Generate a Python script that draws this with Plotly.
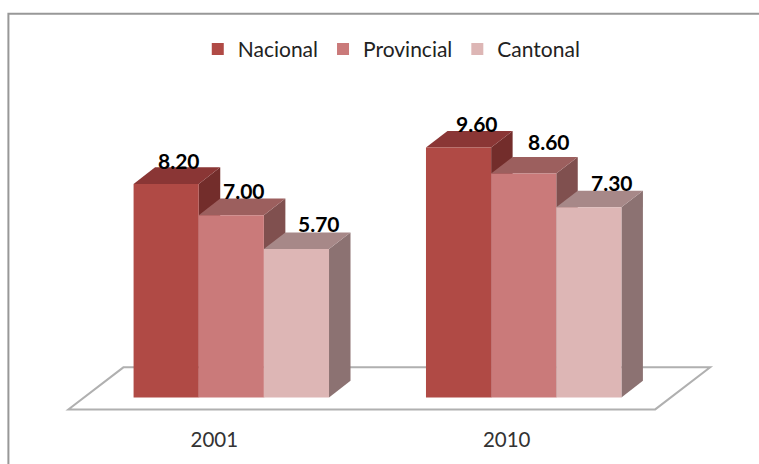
import plotly.graph_objects as go

categories = ["2001", "2010"]
series_names = ["Nacional", "Provincial", "Cantonal"]
nacional = [8.20, 9.60]
provincial = [7.00, 8.60]
cantonal = [5.70, 7.30]
series_values = [nacional, provincial, cantonal]

front_colors = ["#B04A45", "#CA7A7A", "#DDB6B5"]
top_colors = ["#8A3635", "#9C5F5E", "#A78888"]
side_colors = ["#732D2B", "#80504F", "#8C7272"]

W, H = 759, 464
PX_X = 292.5          # pixels per category
PX_Y = 26.0           # pixels per value unit
X_RANGE = [-0.75, 1.75]
Y_RANGE = [-0.6, 10.5]
BARGAP = 0.3316
BAR_W = (1 - BARGAP) / 3
DX = 21.5 / PX_X      # depth of the 3D look, in data units
DY = 16.5 / PX_Y

margin_l = 11.6
plot_w = (X_RANGE[1] - X_RANGE[0]) * PX_X
plot_h = (Y_RANGE[1] - Y_RANGE[0]) * PX_Y
margin_t = 397 - Y_RANGE[1] * PX_Y
margin_b = H - margin_t - plot_h
margin_r = W - margin_l - plot_w

# label offsets in pixels (dx from bar centre, dy from bar top)
label_shift = [[(12.5, 23.5), (18, 23.5)], [(12.5, 25), (25.5, 32)], [(23, 25), (23.5, 25)]]

fig = go.Figure()
for name, vals, col in zip(series_names, series_values, front_colors):
    fig.add_trace(go.Bar(name=name, x=categories, y=vals, marker=dict(color=col, line=dict(width=0))))

def px2x(p):
    return (p - margin_l) / PX_X + X_RANGE[0]
def px2y(p):
    return (397 - p) / PX_Y
def paper_x(p):
    return (p - margin_l) / plot_w
def paper_y(p):
    return (margin_t + plot_h - p) / plot_h

shapes = []
# floor
fl = [(68, 409), (655, 409), (710, 367), (123, 367)]
floor_path = "M" + " L".join(f"{px2x(a):.4f},{px2y(b):.4f}" for a, b in fl) + " Z"
shapes.append(dict(type="path", path=floor_path, xref="x", yref="y", layer="below",
                   fillcolor="#FFFFFF", line=dict(color="#B0B0B0", width=2)))

annotations = []
for g in range(len(categories)):
    for s in range(len(series_names)):
        v = series_values[s][g]
        xl = g + (s - 1.5) * BAR_W
        xr = xl + BAR_W
        side = f"M{xr:.4f},0 L{xr+DX:.4f},{DY:.4f} L{xr+DX:.4f},{v+DY:.4f} L{xr:.4f},{v:.4f} Z"
        top = f"M{xl:.4f},{v:.4f} L{xr:.4f},{v:.4f} L{xr+DX:.4f},{v+DY:.4f} L{xl+DX:.4f},{v+DY:.4f} Z"
        shapes.append(dict(type="path", path=side, xref="x", yref="y", layer="below",
                           fillcolor=side_colors[s], line=dict(width=0)))
        shapes.append(dict(type="path", path=top, xref="x", yref="y", layer="below",
                           fillcolor=top_colors[s], line=dict(width=0)))
        sx, sy = label_shift[s][g]
        annotations.append(dict(x=g + (s - 1) * BAR_W, y=v, xref="x", yref="y", text=f"{v:.2f}",
                                showarrow=False, xshift=sx, yshift=sy,
                                font=dict(family="Lato", size=21, color="#000000", weight="bold")))

# outer frame: left and top edges only
shapes.append(dict(type="path", xref="paper", yref="paper",
                   path=f"M{paper_x(8):.5f},{paper_y(H):.5f} L{paper_x(8):.5f},{paper_y(14):.5f} L{paper_x(W):.5f},{paper_y(14):.5f}",
                   line=dict(color="#989898", width=2), layer="below"))

fig.update_layout(
    width=W, height=H, autosize=False,
    margin=dict(l=margin_l, r=margin_r, t=margin_t, b=margin_b, autoexpand=False),
    paper_bgcolor="#FFFFFF", plot_bgcolor="rgba(0,0,0,0)",
    barmode="group", bargap=BARGAP, bargroupgap=0,
    font=dict(family="Lato", size=21, color="#222222"),
    xaxis=dict(type="category", range=X_RANGE, showgrid=False, zeroline=False, showline=False,
               ticks="outside", ticklen=8, tickcolor="rgba(0,0,0,0)", fixedrange=True,
               ticklabelshift=-17,
               tickfont=dict(family="Lato", size=20.5, color="#333333")),
    yaxis=dict(range=Y_RANGE, visible=False, fixedrange=True),
    legend=dict(orientation="h", x=paper_x(391.5), xanchor="center", y=paper_y(70), yanchor="bottom",
                yref="paper", font=dict(family="Lato", size=21, color="#222222"),
                bgcolor="rgba(0,0,0,0)", traceorder="normal"),
    shapes=shapes, annotations=annotations, showlegend=True,
)
fig.write_html("out.html", config={"displayModeBar": False},
               post_script="document.body.style.margin='0';")
